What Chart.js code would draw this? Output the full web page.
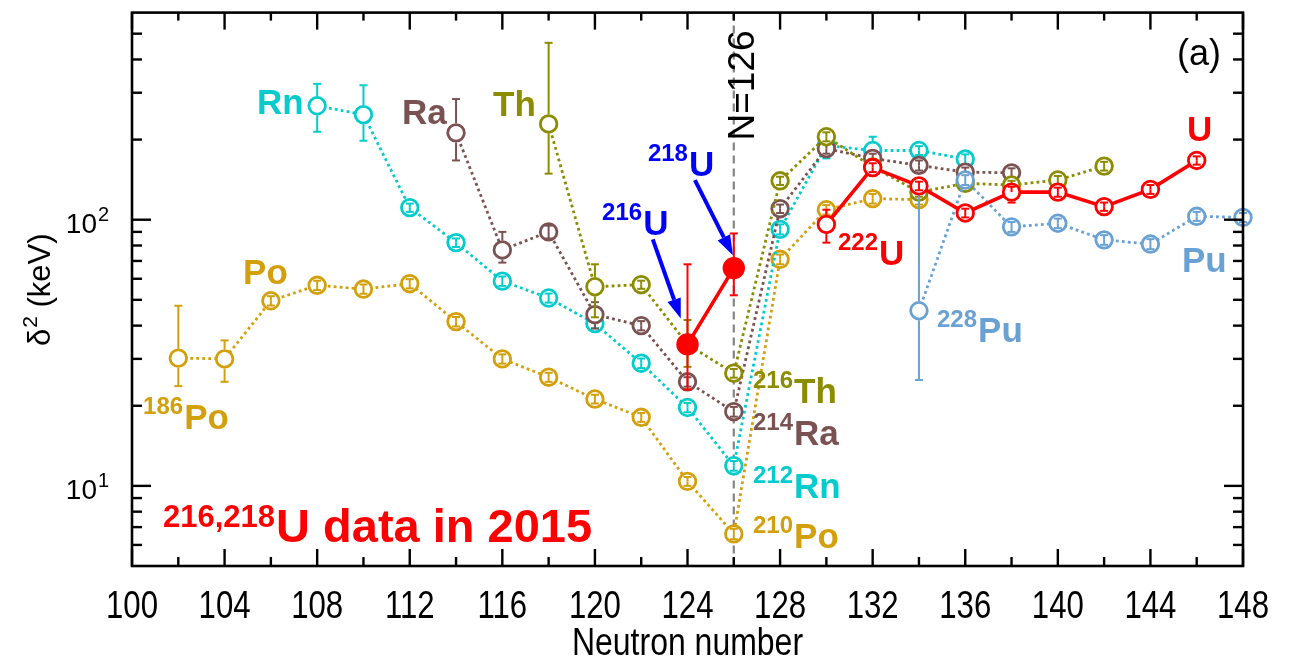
<!DOCTYPE html>
<html>
<head>
<meta charset="utf-8">
<script src="https://cdn.jsdelivr.net/npm/chart.js@4.4.1/dist/chart.umd.min.js"></script>
<style>
  html, body { margin: 0; padding: 0; background: #ffffff; overflow: hidden; }
  canvas { display: block; }
</style>
</head>
<body>
<canvas id="chart" width="1289" height="664"></canvas>
<script>
// Pairing-gap indicator delta^2 (keV) along isotopic chains versus neutron number.

// ---- Po chain ----
const poN     = [102, 104, 106, 108, 110, 112, 114, 116, 118, 120, 122, 124, 126, 128, 130, 132, 134];
const poVal   = [30.2, 30.0, 49.6, 56.7, 54.9, 57.5, 41.4, 30.0, 25.6, 21.2, 18.1, 10.4, 6.6, 71, 109, 120, 119];
const poErrLo = [6.5, 5.4, 2.0, 2.3, 2.2, 2.3, 1.7, 1.2, 1.0, 0.8, 0.7, 0.4, 0.3, 3, 4.5, 5, 5];
const poErrHi = [17.3, 5.2, 2.0, 2.3, 2.2, 2.3, 1.7, 1.2, 1.0, 0.8, 0.7, 0.4, 0.3, 3, 4.5, 5, 5];

// ---- Rn chain ----
const rnN     = [108, 110, 112, 114, 116, 118, 120, 122, 124, 126, 128, 130, 132, 134, 136];
const rnVal   = [268, 248, 111, 82, 58.8, 50.8, 40.7, 28.9, 19.7, 11.9, 92, 190, 182, 182, 169];
const rnErrLo = [54, 50, 4, 3, 2.4, 2, 1.6, 1.2, 0.8, 0.5, 4, 20, 20, 7, 7];
const rnErrHi = [56, 72, 4, 3, 2.4, 2, 1.6, 1.2, 0.8, 0.5, 4, 15, 23, 7, 7];

// ---- Ra chain ----
const raN     = [114, 116, 118, 120, 122, 124, 126, 128, 130, 132, 134, 136, 138];
const raVal   = [212, 77, 90, 44, 40, 24.6, 19, 110, 185, 170, 160, 151, 150];
const raErrLo = [45, 8, 5, 5, 1.6, 1, 0.8, 4, 8, 7, 7, 6, 6];
const raErrHi = [72, 13, 5, 5, 1.6, 1, 0.8, 4, 8, 7, 7, 6, 6];

// ---- Th chain ----
const thN     = [118, 120, 122, 124, 126, 128, 130, 132, 134, 136, 138, 140, 142];
const thVal   = [229, 56, 57, 34, 26.5, 140, 205, 158, 127, 137, 135, 141, 159];
const thErrLo = [80, 13, 2, 6, 1, 5, 8, 6, 5, 5, 5, 5, 6];
const thErrHi = [233, 12, 2, 8, 1, 5, 8, 6, 5, 5, 5, 5, 6];

// ---- U chain (216,218U from 2015 shown filled) ----
const uN      = [124, 126, 128, 130, 132, 134, 136, 138, 140, 142, 144, 146];
const uVal    = [34, 65.8, null, 96, 157, 134, 106, 127, 127, 112, 130, 167];
const uErrLo  = [11, 13.8, null, 14, 6, 5, 4, 11, 5, 4, 5, 6];
const uErrHi  = [34, 23, null, 13, 6, 5, 4, 6, 5, 4, 5, 6];
const uFilled = [true, true, false, false, false, false, false, false, false, false, false, false];

// ---- Pu chain ----
const puN     = [134, 136, 138, 140, 142, 144, 146, 148];
const puVal   = [45.5, 141, 94, 97, 84, 81, 103, 102];
const puErrLo = [20.5, 6, 4, 4, 3.5, 3.5, 4, 4];
const puErrHi = [82.5, 6, 4, 4, 3.5, 3.5, 4, 4];

// ---- axis ticks ----
const xMajorTicks = [100, 104, 108, 112, 116, 120, 124, 128, 132, 136, 140, 144, 148];
const xMinorTicks = [102, 106, 110, 114, 118, 122, 126, 130, 134, 138, 142, 146];
const yMajorTicks = [10, 100];
const yMajorExp   = ['1', '2'];
const yMinorTicks = [6, 7, 8, 9, 20, 30, 40, 50, 60, 70, 80, 90, 200, 300, 400, 500];
const shellClosure = 126;

const COLORS = {
  Po: '#D3A00C',
  Rn: '#05CCCC',
  Ra: '#7A5252',
  Th: '#8C8C00',
  U:  '#FF0000',
  Pu: '#6AA1D3',
  arrow: '#0000FF'
};

const FONT = "'Liberation Sans', Arial, Helvetica, sans-serif";

function chain(label, N, val, lo, hi, color, order, extra) {
  const filled = (extra && extra.filled) || N.map(() => false);
  return Object.assign({
    label,
    data: N.map((n, i) => ({ x: n, y: val[i] })),
    errLo: lo,
    errHi: hi,
    filled,
    borderColor: color,
    backgroundColor: color,
    borderWidth: 2.8,
    borderDash: [2.8, 3.2],
    pointRadius: N.map((n, i) => filled[i] ? 9.8 : 8.3),
    pointBorderWidth: 2.8,
    pointBorderColor: color,
    pointBackgroundColor: N.map((n, i) => filled[i] ? color : '#ffffff'),
    pointHoverRadius: 8,
    spanGaps: false,
    clip: false,
    order
  }, extra || {});
}

const datasets = [
  chain('Po', poN, poVal, poErrLo, poErrHi, COLORS.Po, 5),
  chain('Rn', rnN, rnVal, rnErrLo, rnErrHi, COLORS.Rn, 4),
  chain('Ra', raN, raVal, raErrLo, raErrHi, COLORS.Ra, 3),
  chain('Th', thN, thVal, thErrLo, thErrHi, COLORS.Th, 2),
  chain('Pu', puN, puVal, puErrLo, puErrHi, COLORS.Pu, 1),
  chain('U',  uN,  uVal,  uErrLo,  uErrHi,  COLORS.U,  0, { filled: uFilled, borderDash: [], borderWidth: 3.6 })
];

// Text annotations anchored in data coordinates (neutron number, keV).
const chainLabels = [
  { sup: '',    main: 'Rn', n: 105.40, v: 250,   color: COLORS.Rn },
  { sup: '',    main: 'Ra', n: 111.66, v: 229,   color: COLORS.Ra },
  { sup: '',    main: 'Th', n: 115.60, v: 246,   color: COLORS.Th },
  { sup: '',    main: 'Po', n: 104.80, v: 57.3,  color: COLORS.Po },
  { sup: '186', main: 'Po', n: 100.48, v: 16.3,  color: COLORS.Po },
  { sup: '216', main: 'Th', n: 126.83, v: 20.5,  color: COLORS.Th },
  { sup: '214', main: 'Ra', n: 126.83, v: 14.2,  color: COLORS.Ra },
  { sup: '212', main: 'Rn', n: 126.83, v: 9.03,  color: COLORS.Rn },
  { sup: '210', main: 'Po', n: 126.83, v: 5.83,  color: COLORS.Po },
  { sup: '218', main: 'U',  n: 122.29, v: 146,   color: COLORS.arrow },
  { sup: '216', main: 'U',  n: 120.31, v: 87.9,  color: COLORS.arrow },
  { sup: '222', main: 'U',  n: 130.50, v: 67.5,  color: COLORS.U },
  { sup: '228', main: 'Pu', n: 134.78, v: 34.6,  color: COLORS.Pu },
  { sup: '',    main: 'U',  n: 145.58, v: 198,   color: COLORS.U },
  { sup: '',    main: 'Pu', n: 145.36, v: 63.6,  color: COLORS.Pu }
];

const arrows = [
  { from: [124.32, 140.8], to: [125.96, 73.5] },
  { from: [122.50, 84.3],  to: [123.71, 42.5] }
];

function drawSupLabel(c, x, y, sup, main, color, supSize, mainSize, rise) {
  c.fillStyle = color;
  c.textAlign = 'left';
  c.textBaseline = 'alphabetic';
  let x0 = x;
  if (sup) {
    c.font = 'bold ' + supSize + 'px ' + FONT;
    c.fillText(sup, x0, y - rise);
    x0 += c.measureText(sup).width + 1;
  }
  c.font = 'bold ' + mainSize + 'px ' + FONT;
  c.fillText(main, x0, y);
}

function narrowText(c, text, x, y, sx) {
  c.save();
  c.translate(x, y);
  c.scale(sx, 1);
  c.fillText(text, 0, 0);
  c.restore();
}

const shellLine = {
  id: 'shellLine',
  beforeDatasetsDraw(chart) {
    const c = chart.ctx, ca = chart.chartArea;
    const x = chart.scales.x.getPixelForValue(shellClosure);
    c.save();
    c.strokeStyle = '#858585';
    c.lineWidth = 2.2;
    c.setLineDash([8, 5]);
    c.beginPath();
    c.moveTo(x, ca.top);
    c.lineTo(x, ca.bottom);
    c.stroke();
    c.restore();
  }
};

const errorBars = {
  id: 'errorBars',
  afterDatasetDraw(chart, args) {
    const ds = chart.data.datasets[args.index];
    if (!ds.errLo) return;
    const ys = chart.scales.y, c = chart.ctx;
    c.save();
    c.strokeStyle = ds.borderColor;
    c.lineWidth = 2;
    c.setLineDash([]);
    args.meta.data.forEach((pt, i) => {
      const v = ds.data[i].y;
      if (v == null) return;
      const x = pt.x, y = pt.y;
      const yTop = ys.getPixelForValue(v + ds.errHi[i]);
      const yBot = ys.getPixelForValue(v - ds.errLo[i]);
      const r = ds.pointRadius[i] + 1.3;
      const seg = (a, b) => { c.beginPath(); c.moveTo(x, a); c.lineTo(x, b); c.stroke(); };
      const cap = (yy) => { c.beginPath(); c.moveTo(x - 4, yy); c.lineTo(x + 4, yy); c.stroke(); };
      if (ds.filled[i]) {
        seg(yTop, yBot);
      } else {
        if (y - yTop > r) seg(yTop, y - r); else seg(yTop, y);
        if (yBot - y > r) seg(y + r, yBot); else seg(y, yBot);
      }
      cap(yTop);
      cap(yBot);
    });
    c.restore();
  }
};

const frameAndText = {
  id: 'frameAndText',
  afterDraw(chart) {
    const c = chart.ctx, ca = chart.chartArea;
    const xs = chart.scales.x, ys = chart.scales.y;
    c.save();
    c.setLineDash([]);
    c.strokeStyle = '#000000';
    c.fillStyle = '#000000';

    // frame
    c.lineWidth = 2.6;
    c.strokeRect(ca.left, ca.top, ca.right - ca.left, ca.bottom - ca.top);

    // inward ticks
    c.lineWidth = 2.4;
    const vTick = (x, len, fromTop) => {
      c.beginPath();
      if (fromTop) { c.moveTo(x, ca.top); c.lineTo(x, ca.top + len); }
      else { c.moveTo(x, ca.bottom); c.lineTo(x, ca.bottom - len); }
      c.stroke();
    };
    const hTick = (y, len, fromLeft) => {
      c.beginPath();
      if (fromLeft) { c.moveTo(ca.left, y); c.lineTo(ca.left + len, y); }
      else { c.moveTo(ca.right, y); c.lineTo(ca.right - len, y); }
      c.stroke();
    };
    xMajorTicks.forEach(t => { const x = xs.getPixelForValue(t); vTick(x, 17, false); vTick(x, 17, true); });
    xMinorTicks.forEach(t => { const x = xs.getPixelForValue(t); vTick(x, 9, false); vTick(x, 8, true); });
    yMajorTicks.forEach(t => { const y = ys.getPixelForValue(t); hTick(y, 19, true); hTick(y, 19, false); });
    yMinorTicks.forEach(t => { const y = ys.getPixelForValue(t); hTick(y, 10, true); hTick(y, 10, false); });

    // x tick labels (narrow face)
    c.textAlign = 'center';
    c.textBaseline = 'alphabetic';
    c.font = '38px ' + FONT;
    xMajorTicks.forEach(t => narrowText(c, String(t), xs.getPixelForValue(t), ca.bottom + 52, 0.82));

    // x title
    c.font = '39px ' + FONT;
    narrowText(c, 'Neutron number', (ca.left + ca.right) / 2, ca.bottom + 89, 0.82);

    // y tick labels as powers of ten
    yMajorTicks.forEach((t, i) => {
      const y = ys.getPixelForValue(t);
      c.textAlign = 'right';
      c.font = '28px ' + FONT;
      c.fillText('10', ca.left - 35, y + 13);
      c.textAlign = 'left';
      c.font = '20px ' + FONT;
      c.fillText(yMajorExp[i], ca.left - 34, y + 1);
    });

    // y title
    c.save();
    c.translate(50, (ca.top + ca.bottom) / 2 + 1);
    c.rotate(-Math.PI / 2);
    c.textAlign = 'left';
    c.font = '31px ' + FONT;
    const wD = c.measureText('\u03B4').width;
    c.font = '21px ' + FONT;
    const w2 = c.measureText('2').width;
    c.font = '31px ' + FONT;
    const wK = c.measureText(' (keV)').width;
    let u = -(wD + w2 + wK) / 2;
    c.fillText('\u03B4', u, 0); u += wD + 1;
    c.font = '21px ' + FONT;
    c.fillText('2', u, -13); u += w2;
    c.font = '31px ' + FONT;
    c.fillText(' (keV)', u, 0);
    c.restore();

    // N=126 marker text
    c.save();
    c.translate(xs.getPixelForValue(126.89), ys.getPixelForValue(198.4));
    c.rotate(-Math.PI / 2);
    c.textAlign = 'left';
    c.font = '37px ' + FONT;
    c.fillText('N=126', 0, 0);
    c.restore();

    // panel tag
    c.textAlign = 'left';
    c.font = '36px ' + FONT;
    c.fillText('(a)', xs.getPixelForValue(145.15), ys.getPixelForValue(381.8));

    // chain labels
    chainLabels.forEach(l => {
      drawSupLabel(c, xs.getPixelForValue(l.n), ys.getPixelForValue(l.v), l.sup, l.main, l.color, 24, 35, 15);
    });

    // 2015 data note
    drawSupLabel(c, xs.getPixelForValue(101.34), ys.getPixelForValue(6.14), '216,218', 'U data in 2015', COLORS.U, 31, 47, 15);

    // arrows toward the 216U and 218U points
    c.strokeStyle = COLORS.arrow;
    c.fillStyle = COLORS.arrow;
    c.lineWidth = 4;
    arrows.forEach(a => {
      const x1 = xs.getPixelForValue(a.from[0]), y1 = ys.getPixelForValue(a.from[1]);
      const x2 = xs.getPixelForValue(a.to[0]),   y2 = ys.getPixelForValue(a.to[1]);
      const ang = Math.atan2(y2 - y1, x2 - x1);
      const head = 20, half = 7;
      const bx = x2 - head * Math.cos(ang), by = y2 - head * Math.sin(ang);
      c.beginPath();
      c.moveTo(x1, y1);
      c.lineTo(bx, by);
      c.stroke();
      c.beginPath();
      c.moveTo(x2, y2);
      c.lineTo(bx + half * Math.sin(ang), by - half * Math.cos(ang));
      c.lineTo(bx - half * Math.sin(ang), by + half * Math.cos(ang));
      c.closePath();
      c.fill();
    });

    c.restore();
  }
};

new Chart(document.getElementById('chart'), {
  type: 'line',
  data: { datasets },
  options: {
    responsive: false,
    animation: false,
    devicePixelRatio: 1,
    layout: { padding: { left: 132, right: 46, top: 7, bottom: 98 } },
    plugins: { legend: { display: false }, tooltip: { enabled: false } },
    elements: { line: { tension: 0 } },
    scales: {
      x: { type: 'linear', min: 100, max: 148, display: false },
      y: { type: 'logarithmic', min: 5, max: 600, display: false }
    }
  },
  plugins: [shellLine, errorBars, frameAndText]
});
</script>
</body>
</html>
